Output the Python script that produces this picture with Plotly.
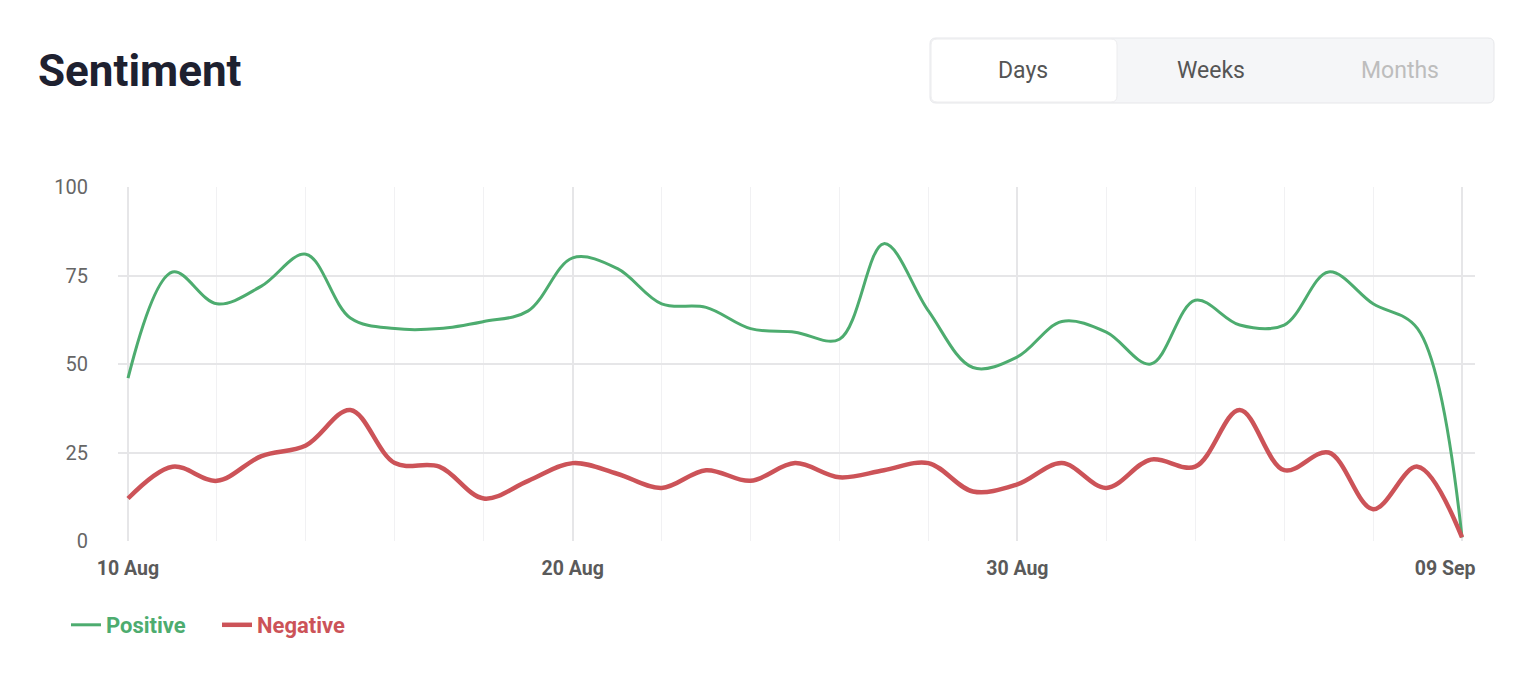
import pandas as pd
import plotly.graph_objects as go

# daily sentiment, 10 Aug .. 09 Sep
dates = pd.date_range("2024-08-10", "2024-09-09", freq="D")
positive = [46, 76, 67, 72, 81, 63, 60, 60, 62, 65, 80, 77, 67, 66, 60, 59, 57, 84,
            65, 49, 52, 62, 59, 50, 68, 61, 61, 76, 67, 60, 1]
negative = [12, 21, 17, 24, 27, 37, 22, 21, 12, 17, 22, 19, 15, 20, 17, 22, 18, 20,
            22, 14, 16, 22, 15, 23, 21, 37, 20, 25, 9, 21, 1]
x_tick_labels = ["10 Aug", "20 Aug", "30 Aug", "09 Sep"]
y_ticks = [0, 25, 50, 75, 100]
periods = ["Days", "Weeks", "Months"]

GREEN = "#4dac6f"
RED = "#cc5358"

# the page body has an 8px margin, so the figure starts at (8, 8)
OFF = 8
W, H = 1538 - 2 * OFF, 674 - 2 * OFF
# plot area in page pixels
L, R, T, B = 118, 1475, 187, 541


def px(x):
    return (x - L) / (R - L)


def py(y):
    return (B - y) / (B - T)


def rounded(x0, y0, x1, y1, r):
    a, b, c, d = px(x0), px(x1), py(y0), py(y1)
    rx, ry = r / (R - L), r / (B - T)
    return (f"M{a + rx},{c} L{b - rx},{c} Q{b},{c} {b},{c - ry} "
            f"L{b},{d + ry} Q{b},{d} {b - rx},{d} L{a + rx},{d} "
            f"Q{a},{d} {a},{d + ry} L{a},{c - ry} Q{a},{c} {a + rx},{c} Z")


fig = go.Figure()
fig.add_trace(go.Scatter(
    x=dates, y=positive, mode="lines",
    name=f"<span style='color:{GREEN}'>Positive</span>",
    line=dict(color=GREEN, width=3, shape="spline", smoothing=1),
))
fig.add_trace(go.Scatter(
    x=dates, y=negative, mode="lines",
    name=f"<span style='color:{RED}'>Negative</span>",
    line=dict(color=RED, width=4.5, shape="spline", smoothing=1),
))

x0 = dates[0] - pd.Timedelta(hours=5.4)
x1 = dates[-1] + pd.Timedelta(hours=7)

# last label is kept inside the chart, like the original
tick_text = x_tick_labels[:-1] + [x_tick_labels[-1] + "\u00a0" * 7]

fig.update_xaxes(
    range=[x0, x1],
    tickmode="array", tickvals=dates[::10], ticktext=tick_text,
    showgrid=True, gridcolor="#e6e6e8", gridwidth=1.5,
    minor=dict(dtick=2 * 86400000, tick0=dates[0], showgrid=True,
               gridcolor="#f1f1f3", gridwidth=1),
    zeroline=False, showline=False,
    tickfont=dict(family="Roboto", size=19.5, color="#5a5a5a", weight="bold"),
    ticklabelstandoff=13,
)
fig.update_yaxes(
    range=[0, 100], tickvals=y_ticks,
    showgrid=True, gridcolor="#e6e6e8", gridwidth=1.5,
    zeroline=False, showline=False,
    tickfont=dict(family="Roboto", size=20, color="#666666"),
    ticklabelstandoff=29,
)

shapes = [
    dict(type="path", xref="paper", yref="paper", path=rounded(930, 38, 1494, 103, 6),
         fillcolor="#f5f6f8", line=dict(color="#e6e7ea", width=1)),
    dict(type="path", xref="paper", yref="paper", path=rounded(931, 39, 1117, 102, 6),
         fillcolor="#ffffff", line=dict(color="#ececee", width=1)),
]

annotations = [
    dict(text="<b>Sentiment</b>", xref="paper", yref="paper", x=px(36), y=py(71),
         xanchor="left", yanchor="middle", showarrow=False,
         font=dict(family="Roboto", size=44, color="#1e2130")),
]
for label, cx, col in zip(periods, [1023, 1211, 1400], ["#555555", "#555555", "#bdbdbd"]):
    annotations.append(dict(text=label, xref="paper", yref="paper", x=px(cx), y=py(70),
                            xanchor="center", yanchor="middle", showarrow=False,
                            font=dict(family="Roboto", size=23, color=col)))

fig.update_layout(
    width=W, height=H,
    margin=dict(l=L - OFF, r=W - (R - OFF), t=T - OFF, b=H - (B - OFF)),
    paper_bgcolor="white", plot_bgcolor="white",
    showlegend=True,
    legend=dict(orientation="h", x=px(66), y=py(625), xanchor="left", yanchor="middle",
                font=dict(family="Roboto", size=22, weight="bold"),
                itemwidth=30, entrywidth=106, entrywidthmode="pixels"),
    shapes=shapes, annotations=annotations,
    hovermode=False,
)

fig.write_html("out.html")
